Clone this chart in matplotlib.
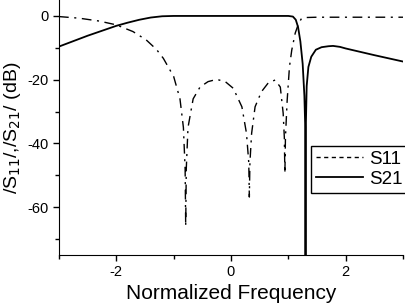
import matplotlib
matplotlib.use("Agg")
import matplotlib.pyplot as plt
from matplotlib.lines import Line2D

plt.rcParams["font.family"] = ["Liberation Sans", "DejaVu Sans"]
plt.rcParams["axes.unicode_minus"] = False

# S11 (Reflexion)
s11_f  = [-3.0, -2.65, -2.3, -2.0, -1.71, -1.48, -1.3, -1.18, -1.0, -0.89, -0.83, -0.80, -0.79,
          -0.78, -0.75, -0.66, -0.54, -0.40, -0.25, -0.10, 0.04, 0.19, 0.27, 0.31, 0.32, 0.33,
          0.36, 0.42, 0.53, 0.65, 0.77, 0.86, 0.91, 0.93, 0.94, 0.95, 0.98, 1.02, 1.06, 1.12,
          1.18, 1.23, 1.30, 1.5, 2.0, 2.5, 3.0]
s11_db = [-0.2, -0.7, -1.6, -2.8, -4.9, -7.5, -10.5, -13.3, -19.0, -26.0, -35.0, -48.0, -66.0,
          -48.0, -35.0, -26.0, -22.3, -20.6, -19.9, -20.6, -22.7, -28.5, -36.8, -46.0, -56.8, -46.0,
          -36.8, -28.5, -23.8, -21.0, -20.1, -22.3, -30.5, -38.0, -49.4, -38.0, -26.4, -15.9, -10.7, -5.4,
          -2.3, -0.8, -0.5, -0.4, -0.4, -0.4, -0.4]

# S21 (Transmission)
s21_f  = [-3.0, -2.5, -2.0, -1.8, -1.6, -1.4, -1.2, -1.0, 0.0, 1.0, 1.08, 1.13, 1.17, 1.21,
          1.25, 1.28, 1.295, 1.30, 1.305, 1.32, 1.35, 1.40, 1.48, 1.58, 1.70, 1.78, 1.9, 2.0, 2.5, 3.0]
s21_db = [-9.6, -6.2, -3.1, -2.1, -1.2, -0.5, -0.1, 0.0, 0.0, 0.0, -0.2, -1.2, -3.5, -8.0,
          -15.0, -25.0, -35.0, -90.0, -35.0, -22.0, -16.0, -12.8, -10.6, -9.8, -9.5, -9.4, -9.7, -10.2, -12.3, -14.3]

fig = plt.figure(figsize=(4.06, 3.04), dpi=100)
ax = fig.add_axes([0.1453, 0.161, 0.8473, 0.839])

ax.plot(s11_f, s11_db, color="black", linewidth=1.0, linestyle=(0, (7, 4, 1.5, 4)))
ax.plot(s21_f, s21_db, color="black", linewidth=1.3)

ax.set_xlim(-3, 3)
ax.set_ylim(-75, 5)
ax.set_xticks([-2, 0, 2])
ax.set_xticks([-3, -1, 1, 3], minor=True)
ax.set_yticks([0, -20, -40, -60])
ax.set_yticks([-10, -30, -50, -70], minor=True)
ax.tick_params(which="both", direction="out", labelsize=10.5, width=1)
ax.tick_params(which="major", length=4)
ax.tick_params(which="minor", length=3)
ax.spines[["top", "right"]].set_visible(False)

ax.set_xlabel("Normalized Frequency", fontsize=15, labelpad=3)
ax.set_ylabel("/S$_{11}$/,/S$_{21}$/ (dB)", fontsize=14, labelpad=3)

handles = [Line2D([], [], color="black", linewidth=1.0, linestyle=(0, (3, 2.5))),
           Line2D([], [], color="black", linewidth=1.3)]
leg = ax.legend(handles, ["S11", "S21"], loc="upper left", bbox_to_anchor=(0.733, 0.427),
                borderaxespad=0, fontsize=13.5, handlelength=2.5, handletextpad=0.35,
                borderpad=0.25, labelspacing=0.15, fancybox=False, framealpha=1)
leg.get_frame().set_edgecolor("black")
leg.get_frame().set_linewidth(1.0)

fig.savefig("out.png", dpi=100)
